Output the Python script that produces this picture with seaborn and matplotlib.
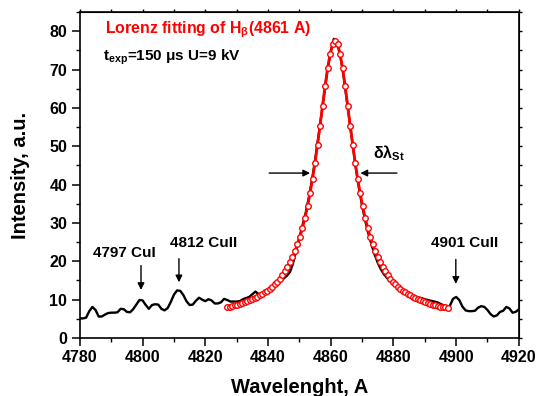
import numpy as np
import pandas as pd
import matplotlib
matplotlib.use("Agg")
import matplotlib.pyplot as plt
import seaborn as sns
from matplotlib.ticker import MultipleLocator, NullFormatter

# measured spectrum, 1 A step from 4780 to 4920
wl_start, wl_step = 4780, 1.0
intensity = [
    5.1, 5.1, 5.3, 7.0, 8.1, 7.3, 5.6, 5.6, 6.1, 6.5,
    6.6, 6.6, 6.7, 7.6, 7.5, 6.8, 6.7, 7.5, 8.7, 9.9,
    9.8, 8.6, 7.6, 8.6, 8.8, 8.7, 7.6, 7.2, 7.8, 9.4,
    11.3, 12.4, 12.3, 11.2, 9.6, 8.6, 8.7, 9.7, 10.5, 10.0,
    9.6, 10.1, 9.8, 9.0, 9.0, 9.3, 10.2, 9.9, 9.5, 9.5,
    9.5, 9.6, 10.1, 10.4, 10.7, 11.4, 12.1, 11.4, 11.3, 11.7,
    12.0, 12.6, 13.3, 14.0, 14.8, 15.5, 16.2, 17.2, 19.5, 23.0,
    26.2, 29.3, 32.5, 36.5, 41.0, 46.3, 52.0, 58.0, 64.0, 70.0,
    74.5, 78.0, 77.2, 73.8, 69.0, 62.8, 56.5, 50.2, 44.4, 39.2,
    34.6, 30.6, 27.3, 24.4, 21.8, 19.6, 17.9, 16.6, 15.6, 14.8,
    14.1, 13.4, 12.8, 12.2, 11.7, 11.3, 11.0, 10.7, 10.5, 10.4,
    10.1, 9.9, 9.7, 9.5, 9.3, 8.9, 8.5, 8.1, 8.4, 10.2,
    10.7, 9.9, 8.2, 7.2, 7.0, 7.0, 7.1, 7.9, 8.3, 8.1,
    7.3, 6.2, 5.6, 5.9, 6.8, 7.1, 8.1, 7.7, 6.6, 6.8,
    7.5,
]

# Lorentz fit points, 0.8 A step from 4827.0
fit_start, fit_step = 4827.0, 0.8
fit = [
    8.1, 8.2, 8.4, 8.5, 8.7, 8.9, 9.1, 9.3, 9.6, 9.8,
    10.1, 10.4, 10.7, 11.1, 11.5, 11.9, 12.3, 12.9, 13.4, 14.0,
    14.7, 15.5, 16.4, 17.4, 18.4, 19.7, 21.0, 22.6, 24.4, 26.4,
    28.7, 31.3, 34.3, 37.7, 41.5, 45.7, 50.4, 55.4, 60.6, 65.7,
    70.3, 74.1, 76.6, 77.5,
    76.6, 74.1, 70.3, 65.7, 60.6, 55.4, 50.4, 45.7, 41.5, 37.7,
    34.3, 31.3, 28.7, 26.4, 24.4, 22.6, 21.0, 19.7, 18.4, 17.4,
    16.4, 15.5, 14.7, 14.0, 13.4, 12.9, 12.3, 11.9, 11.5, 11.1,
    10.7, 10.4, 10.1, 9.8, 9.6, 9.3, 9.1, 8.9, 8.7, 8.5,
    8.4, 8.2, 8.1, 8.0, 7.8,
]

# line labels: text, text x/y, arrow x, arrow start y, arrow tip y
line_labels = ["4797 CuI", "4812 CuII", "4901 CuII"]
label_x = [4794.3, 4819.5, 4902.8]
label_y = [21.2, 23.6, 23.8]
arrow_x = [4799.5, 4811.6, 4899.9]
arrow_top = [19.6, 21.4, 21.2]
arrow_tip = [11.8, 13.8, 13.4]

df = pd.DataFrame({"wl": wl_start + wl_step * np.arange(len(intensity)),
                   "I": intensity})
df_fit = pd.DataFrame({"wl": fit_start + fit_step * np.arange(len(fit)),
                       "I": fit})

sns.set_style("ticks")
plt.rcParams["font.family"] = ["Liberation Sans", "DejaVu Sans"]
plt.rcParams["font.weight"] = "bold"
plt.rcParams["text.color"] = "black"
plt.rcParams["axes.labelcolor"] = "black"
plt.rcParams["xtick.color"] = "black"
plt.rcParams["ytick.color"] = "black"
plt.rcParams["axes.edgecolor"] = "black"
plt.rcParams["mathtext.fontset"] = "custom"
plt.rcParams["mathtext.bf"] = "Liberation Sans:bold"
plt.rcParams["mathtext.rm"] = "Liberation Sans"

fig = plt.figure(figsize=(5.36, 3.96), dpi=100)
ax = fig.add_axes([0.149, 0.1465, 0.819, 0.8232])

sns.lineplot(data=df, x="wl", y="I", ax=ax, color="black", lw=1.7)
sns.lineplot(data=df_fit, x="wl", y="I", ax=ax, color="red", lw=2.0,
             marker="o", markersize=4, markerfacecolor="white",
             markeredgecolor="red", markeredgewidth=1.0)

ax.set_xlim(4780, 4920)
ax.set_ylim(0, 85)
ax.xaxis.set_major_locator(MultipleLocator(20))
ax.xaxis.set_minor_locator(MultipleLocator(10))
ax.yaxis.set_major_locator(MultipleLocator(10))
ax.yaxis.set_minor_locator(MultipleLocator(5))
ax.tick_params(which="major", length=6, width=1.1, labelsize=11.5, pad=3)
ax.tick_params(which="minor", length=3, width=1.0)
for lab in ax.get_xticklabels() + ax.get_yticklabels():
    lab.set_fontweight("bold")
for s in ax.spines.values():
    s.set_visible(True)
    s.set_linewidth(1.2)

top = ax.secondary_xaxis("top")
top.xaxis.set_major_locator(MultipleLocator(10))
top.xaxis.set_major_formatter(NullFormatter())
top.tick_params(length=2, width=1.0)
right = ax.secondary_yaxis("right")
right.yaxis.set_major_locator(MultipleLocator(5))
right.yaxis.set_major_formatter(NullFormatter())
right.tick_params(length=2, width=1.0)

ax.set_xlabel("Wavelenght, A", fontsize=14.5, fontweight="bold", labelpad=9)
ax.set_ylabel("Intensity, a.u.", fontsize=14.5, fontweight="bold", labelpad=14)

ax.text(4788, 79.5, r"Lorenz fitting of H$_{\mathbf{\beta}}$(4861 A)", color="red",
        fontsize=11.4, fontweight="bold", va="baseline")
ax.text(4787.5, 72.5, r"t$_{\mathbf{exp}}$=150 $\mathbf{\mu}$s U=9 kV", color="black",
        fontsize=11, fontweight="bold", va="baseline")
ax.text(4873.4, 48.2, r"$\mathbf{\delta\lambda}_{\mathbf{St}}$", fontsize=11.5,
        ha="left", va="center")

arrow_kw = dict(arrowstyle="-|>", color="black", lw=1.0, mutation_scale=10)
ax.annotate("", xy=(4854.3, 43), xytext=(4839.5, 43), arrowprops=arrow_kw)
ax.annotate("", xy=(4868.6, 43), xytext=(4882.0, 43), arrowprops=arrow_kw)

for txt, tx, ty, xa, y0, y1 in zip(line_labels, label_x, label_y,
                                   arrow_x, arrow_top, arrow_tip):
    ax.text(tx, ty, txt, fontsize=11, fontweight="bold", ha="center",
            va="baseline")
    ax.annotate("", xy=(xa, y1), xytext=(xa, y0), arrowprops=arrow_kw)

fig.savefig("out.png", dpi=100)
